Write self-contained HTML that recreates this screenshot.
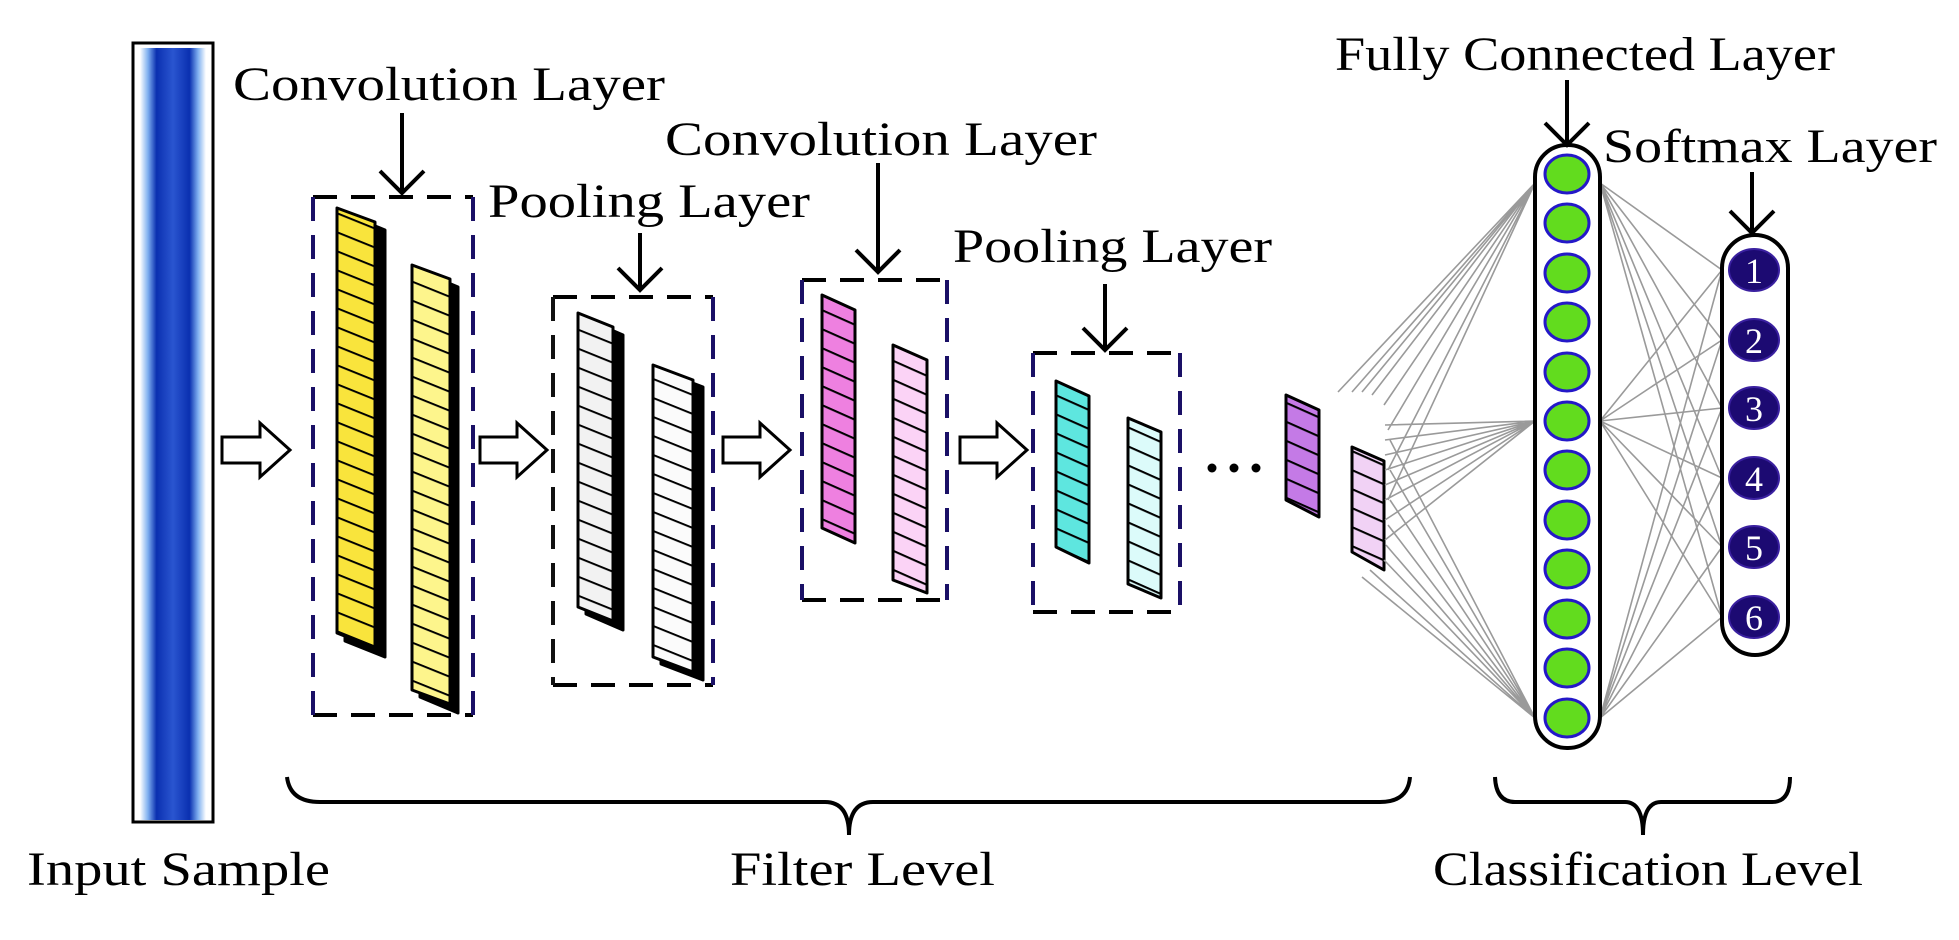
<!DOCTYPE html>
<html><head><meta charset="utf-8"><style>html,body{margin:0;padding:0;background:#fff}svg{display:block}text{font-family:"Liberation Serif",serif;fill:#000}</style></head>
<body>
<svg width="1959" height="940" viewBox="0 0 1959 940" xmlns="http://www.w3.org/2000/svg">
<defs>
<pattern id="st" width="20" height="19" patternUnits="userSpaceOnUse" patternTransform="skewY(22)">
<line x1="0" y1="1" x2="20" y2="1" stroke="#000" stroke-width="2.2"/>
</pattern>
<pattern id="st2" width="20" height="19" patternUnits="userSpaceOnUse" patternTransform="skewY(24)">
<line x1="0" y1="1" x2="20" y2="1" stroke="#000" stroke-width="2.6"/>
</pattern>
<linearGradient id="wave" x1="0" x2="1" y1="0" y2="0">
<stop offset="0" stop-color="#fff"/><stop offset="0.12" stop-color="#7fb0f0"/><stop offset="0.25" stop-color="#0a30b0"/><stop offset="0.5" stop-color="#2a55d0"/><stop offset="0.75" stop-color="#0a30b0"/><stop offset="0.88" stop-color="#7fb0f0"/><stop offset="1" stop-color="#fff"/>
</linearGradient>
</defs>

<!-- Input sample -->
<rect x="133" y="43" width="80" height="779" fill="#fff" stroke="#000" stroke-width="3"/>
<rect x="140" y="48" width="66" height="772" fill="url(#wave)"/>

<!-- labels -->
<text x="233" y="100" font-size="48" textLength="432" lengthAdjust="spacingAndGlyphs">Convolution Layer</text>
<text x="488" y="217" font-size="48" textLength="322" lengthAdjust="spacingAndGlyphs">Pooling Layer</text>
<text x="665" y="155" font-size="48" textLength="432" lengthAdjust="spacingAndGlyphs">Convolution Layer</text>
<text x="953" y="262" font-size="48" textLength="319" lengthAdjust="spacingAndGlyphs">Pooling Layer</text>
<text x="1335" y="70" font-size="48" textLength="500" lengthAdjust="spacingAndGlyphs">Fully Connected Layer</text>
<text x="1603" y="162" font-size="48" textLength="334" lengthAdjust="spacingAndGlyphs">Softmax Layer</text>
<text x="27" y="885" font-size="48" textLength="303" lengthAdjust="spacingAndGlyphs">Input Sample</text>
<text x="730" y="885" font-size="48" textLength="265" lengthAdjust="spacingAndGlyphs">Filter Level</text>
<text x="1433" y="885" font-size="48" textLength="430" lengthAdjust="spacingAndGlyphs">Classification Level</text>

<!-- down arrows -->
<g stroke="#000" stroke-width="4" fill="none">
<path d="M402 113V193M380 171L402 193L424 171"/>
<path d="M640 233V290M618 268L640 290L662 268"/>
<path d="M878 163V272M856 250L878 272L900 250"/>
<path d="M1105 284V350M1083 328L1105 350L1127 328"/>
<path d="M1567 80V145M1545 123L1567 145L1589 123"/>
<path d="M1752 172V233M1730 211L1752 233L1774 211"/>
</g>

<!-- dashed boxes -->
<g fill="none" stroke-width="4" stroke-dasharray="24 14">
<path d="M313 197H473" stroke="#000"/><path d="M313 715H473" stroke="#000"/>
<path d="M313 197V715" stroke="#1a1066"/><path d="M473 197V715" stroke="#1a1066"/>
<path d="M553 297H713" stroke="#000"/><path d="M553 685H713" stroke="#000"/>
<path d="M553 297V685" stroke="#111"/><path d="M713 297V685" stroke="#1a1066"/>
<path d="M802 280H947" stroke="#000"/><path d="M802 600H947" stroke="#000"/>
<path d="M802 280V600" stroke="#1a1066"/><path d="M947 280V600" stroke="#1a1066"/>
<path d="M1033 353H1180" stroke="#000"/><path d="M1033 612H1180" stroke="#000"/>
<path d="M1033 353V612" stroke="#1a1066"/><path d="M1180 353V612" stroke="#1a1066"/>
</g>

<!-- bars with shadows -->
<g stroke="#000" stroke-width="3" stroke-linejoin="round">
<polygon points="345,214 385,230 385,657 345,641" fill="#000"/>
<polygon points="337,208 375,222 375,648 337,633" fill="#f9e43c"/>
<polygon points="337,208 375,222 375,648 337,633" fill="url(#st)" stroke="none"/>
<polygon points="420,271 458,287 458,713 420,697" fill="#000"/>
<polygon points="412,265 450,279 450,704 412,690" fill="#fdf58c"/>
<polygon points="412,265 450,279 450,704 412,690" fill="url(#st)" stroke="none"/>
<polygon points="586,319 623,335 623,630 586,614" fill="#000"/>
<polygon points="578,313 613,327 613,621 578,607" fill="#f2f2f2"/>
<polygon points="578,313 613,327 613,621 578,607" fill="url(#st)" stroke="none"/>
<polygon points="661,371 703,387 703,680 661,664" fill="#000"/>
<polygon points="653,365 693,380 693,672 653,657" fill="#fbfbfb"/>
<polygon points="653,365 693,380 693,672 653,657" fill="url(#st)" stroke="none"/>

<polygon points="822,295 855,310 855,543 822,528" fill="#ee80e0"/>
<polygon points="822,295 855,310 855,543 822,528" fill="url(#st2)" stroke="none"/>
<polygon points="893,345 927,360 927,593 893,580" fill="#fbd3f6"/>
<polygon points="893,345 927,360 927,593 893,580" fill="url(#st2)" stroke="none"/>
<polygon points="1056,381 1089,396 1089,563 1056,547" fill="#5ee6df"/>
<polygon points="1056,381 1089,396 1089,563 1056,547" fill="url(#st2)" stroke="none"/>
<polygon points="1128,418 1161,432 1161,598 1128,584" fill="#dcfbfa"/>
<polygon points="1128,418 1161,432 1161,598 1128,584" fill="url(#st2)" stroke="none"/>
<polygon points="1286,395 1319,410 1319,517 1286,500" fill="#c47ae6"/>
<polygon points="1286,395 1319,410 1319,517 1286,500" fill="url(#st2)" stroke="none"/>
<polygon points="1352,447 1384,461 1384,570 1352,552" fill="#f1d2f5"/>
<polygon points="1352,447 1384,461 1384,570 1352,552" fill="url(#st2)" stroke="none"/>
</g>

<!-- open arrows -->
<g fill="#fff" stroke="#000" stroke-width="3" stroke-linejoin="miter">
<polygon points="222,437 260,437 260,423 290,450 260,477 260,463 222,463"/>
<polygon points="480,437 517,437 517,423 547,450 517,477 517,463 480,463"/>
<polygon points="723,437 760,437 760,423 790,450 760,477 760,463 723,463"/>
<polygon points="960,437 997,437 997,423 1027,450 997,477 997,463 960,463"/>
</g>

<!-- dots -->
<g fill="#000"><circle cx="1212" cy="468" r="4.5"/><circle cx="1234" cy="468" r="4.5"/><circle cx="1256" cy="468" r="4.5"/></g>

<!-- connections to FC -->
<g stroke="#9a9a9a" stroke-width="1.6" fill="none">
<path d="M1338 392L1535 183M1352 392L1535 183M1362 392L1535 183M1372 395L1535 183M1384 405L1535 183M1388 430L1535 183M1388 470L1535 183M1388 500L1535 183"/>
<path d="M1385 425L1535 421M1385 440L1535 421M1385 455L1535 421M1385 470L1535 421M1385 485L1535 421M1385 500L1535 421M1385 520L1535 421M1385 540L1535 421"/>
<path d="M1390 440L1535 718M1390 470L1535 718M1390 500L1535 718M1388 525L1535 718M1386 545L1535 718M1384 560L1535 718M1370 570L1535 718M1362 577L1535 718"/>
<path d="M1600 183L1722 270M1600 183L1722 340M1600 183L1722 408M1600 183L1722 478M1600 183L1722 547M1600 183L1722 617"/>
<path d="M1600 421L1722 270M1600 421L1722 340M1600 421L1722 408M1600 421L1722 478M1600 421L1722 547M1600 421L1722 617"/>
<path d="M1600 718L1722 270M1600 718L1722 340M1600 718L1722 408M1600 718L1722 478M1600 718L1722 547M1600 718L1722 617"/>
</g>

<!-- FC column -->
<rect x="1535" y="145" width="65" height="603" rx="32" fill="none" stroke="#000" stroke-width="4"/>
<g fill="#62dc1e" stroke="#2418c8" stroke-width="3">
<ellipse cx="1567" cy="174" rx="22" ry="19"/><ellipse cx="1567" cy="223" rx="22" ry="19"/><ellipse cx="1567" cy="273" rx="22" ry="19"/><ellipse cx="1567" cy="322" rx="22" ry="19"/><ellipse cx="1567" cy="372" rx="22" ry="19"/><ellipse cx="1567" cy="421" rx="22" ry="19"/><ellipse cx="1567" cy="470" rx="22" ry="19"/><ellipse cx="1567" cy="520" rx="22" ry="19"/><ellipse cx="1567" cy="569" rx="22" ry="19"/><ellipse cx="1567" cy="619" rx="22" ry="19"/><ellipse cx="1567" cy="668" rx="22" ry="19"/><ellipse cx="1567" cy="718" rx="22" ry="19"/>
</g>

<!-- Softmax column -->
<rect x="1722" y="235" width="66" height="420" rx="33" fill="none" stroke="#000" stroke-width="4"/>
<g fill="#1c0a72" stroke="#3a20a0" stroke-width="2">
<ellipse cx="1754" cy="270" rx="25" ry="21"/><ellipse cx="1754" cy="340" rx="25" ry="21"/><ellipse cx="1754" cy="408" rx="25" ry="21"/><ellipse cx="1754" cy="478" rx="25" ry="21"/><ellipse cx="1754" cy="547" rx="25" ry="21"/><ellipse cx="1754" cy="617" rx="25" ry="21"/>
</g>
<g font-size="36" text-anchor="middle" style="fill:#fff">
<text x="1754" y="283" style="fill:#fff">1</text><text x="1754" y="353" style="fill:#fff">2</text><text x="1754" y="421" style="fill:#fff">3</text><text x="1754" y="491" style="fill:#fff">4</text><text x="1754" y="560" style="fill:#fff">5</text><text x="1754" y="630" style="fill:#fff">6</text>
</g>

<!-- braces -->
<g fill="none" stroke="#000" stroke-width="4">
<path d="M287 777Q290 802 320 802L825 802Q849 802 849 835Q849 802 873 802L1380 802Q1408 802 1410 777"/>
<path d="M1495 777Q1496 802 1515 802L1625 802Q1643 802 1643 835Q1643 802 1661 802L1772 802Q1790 802 1790 777"/>
</g>
</svg>
</body></html>
